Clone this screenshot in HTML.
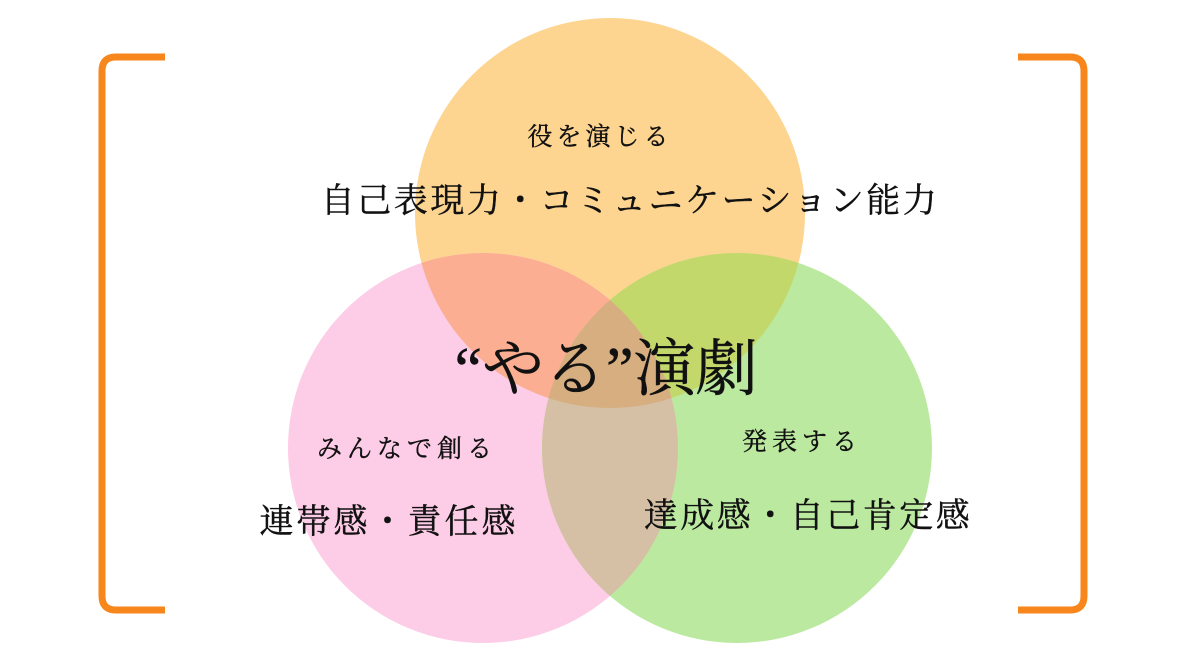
<!DOCTYPE html>
<html><head><meta charset="utf-8"><style>
html,body{margin:0;padding:0;background:#fff;}
svg{display:block;}
text{font-family:"Liberation Serif","Noto Serif CJK SC",serif;fill:#111;text-anchor:middle;}
</style></head><body>
<svg width="1182" height="664" viewBox="0 0 1182 664" xmlns="http://www.w3.org/2000/svg">
<defs>
<clipPath id="cO"><circle cx="610" cy="213" r="195"/></clipPath>
<clipPath id="cP"><circle cx="483" cy="448" r="195"/></clipPath>
<clipPath id="cG"><circle cx="737" cy="448" r="195"/></clipPath>
</defs>
<path d="M165 57 H116 Q102 57 102 71 V596 Q102 610 116 610 H165" fill="none" stroke="#f7861c" stroke-width="7"/>
<path d="M1018 57 H1070 Q1084 57 1084 71 V596 Q1084 610 1070 610 H1018" fill="none" stroke="#f7861c" stroke-width="7"/>
<circle cx="610" cy="213" r="195" fill="#fdd490"/>
<circle cx="483" cy="448" r="195" fill="#fdcce6"/>
<circle cx="737" cy="448" r="195" fill="#bbe9a0"/>
<g clip-path="url(#cO)"><circle cx="483" cy="448" r="195" fill="#fbae92"/><circle cx="737" cy="448" r="195" fill="#c3d86b"/></g>
<g clip-path="url(#cP)"><circle cx="737" cy="448" r="195" fill="#d5c0a6"/></g>
<g clip-path="url(#cP)"><g clip-path="url(#cG)"><circle cx="610" cy="213" r="195" fill="#d6ae80"/></g></g>
<g stroke="#111" stroke-width="0.4">
<text x="600" y="145" font-size="25" letter-spacing="4">役を演じる</text>
<text x="630" y="212" font-size="34" letter-spacing="2.5">自己表現力・コミュニケーション能力</text>
<text x="606" y="390" font-size="62">“やる”演劇</text>
<text x="407" y="457" font-size="25" letter-spacing="5">みんなで創る</text>
<text x="389" y="533" font-size="34" letter-spacing="3">連帯感・責任感</text>
<text x="802" y="450" font-size="25" letter-spacing="5">発表する</text>
<text x="808" y="527" font-size="34" letter-spacing="2.5">達成感・自己肯定感</text>
</g>
</svg>
</body></html>
